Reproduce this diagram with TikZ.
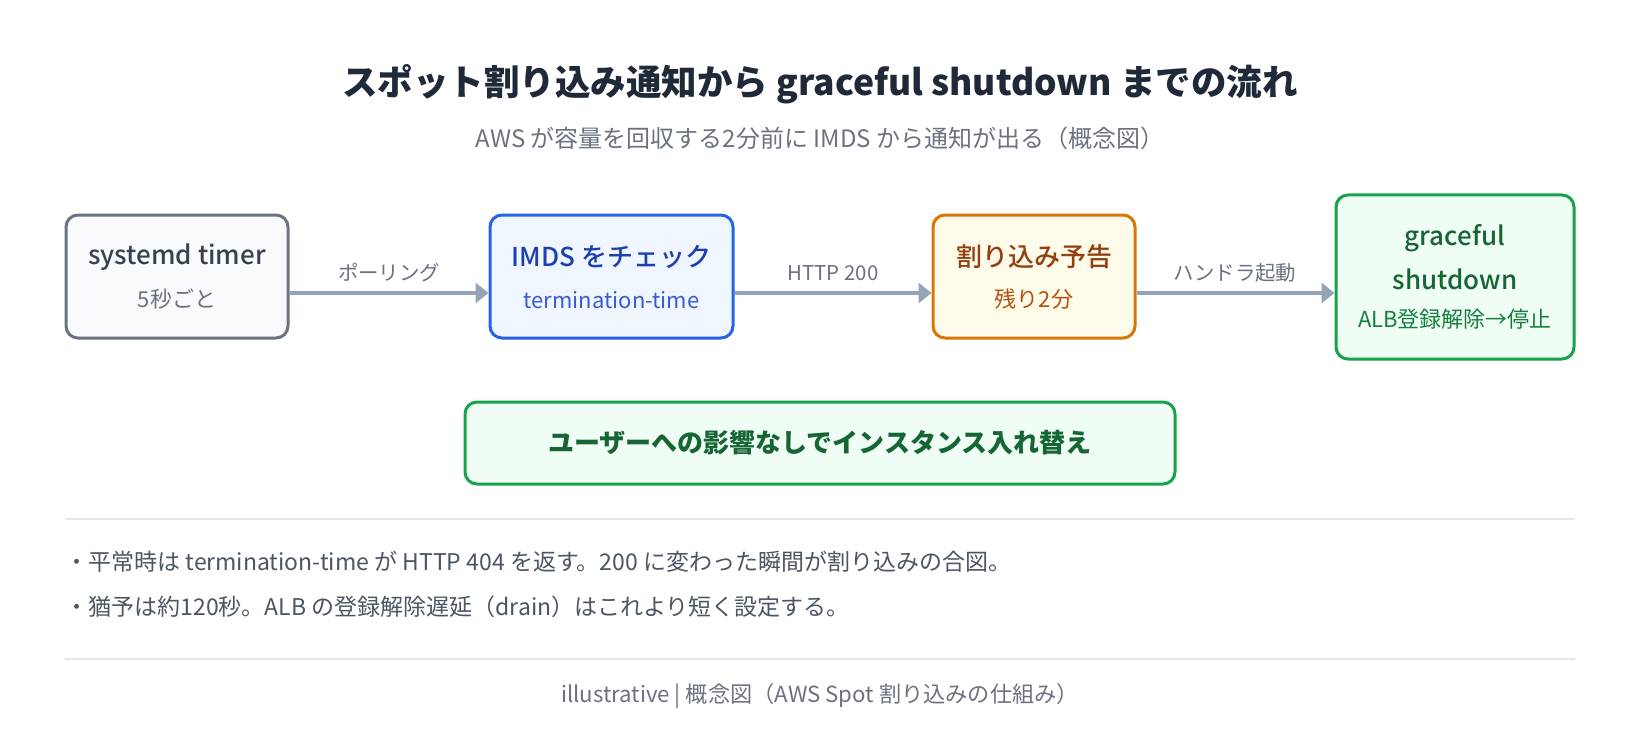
\documentclass[tikz,border=0pt]{standalone}
\usepackage{fontspec}
\setmainfont{Noto Sans CJK JP}
\newfontfamily\medf{Noto Sans CJK JP Medium}
\usetikzlibrary{arrows.meta}
\definecolor{ttl}{HTML}{1F2937}
\definecolor{mut}{HTML}{6B7280}
\definecolor{bul}{HTML}{4B5563}
\definecolor{arr}{HTML}{94A3B8}
\definecolor{sep}{HTML}{E5E7EB}
\definecolor{gfill}{HTML}{F8FAFC}\definecolor{gdraw}{HTML}{6B7280}\definecolor{gtxt}{HTML}{374151}
\definecolor{bfill}{HTML}{EFF6FF}\definecolor{bdraw}{HTML}{2563EB}\definecolor{btxt}{HTML}{1E40AF}\definecolor{bsub}{HTML}{3B5BD0}
\definecolor{ofill}{HTML}{FFFBEB}\definecolor{odraw}{HTML}{D97706}\definecolor{otxt}{HTML}{92400E}\definecolor{osub}{HTML}{B45309}
\definecolor{nfill}{HTML}{F0FDF4}\definecolor{ndraw}{HTML}{16A34A}\definecolor{ntxt}{HTML}{166534}\definecolor{nsub}{HTML}{15803D}
\tikzset{
  box/.style={draw, line width=3pt, rounded corners=12pt, inner sep=0pt},
  flow/.style={draw=arr, line width=4pt, -{Triangle[length=13pt,width=20pt]}},
  lbl/.style={text=mut, font=\fontsize{20.4}{24}\selectfont},
  bt/.style={font=\medf\fontsize{26}{30}\selectfont},
  bs/.style={font=\fontsize{22}{26}\selectfont},
}
\begin{document}
\begin{tikzpicture}[x=1pt,y=-1pt]
\useasboundingbox (0,0) rectangle (1640,754);
\fill[white] (0,0) rectangle (1640,754);
\node[text=ttl, font=\fontsize{35.5}{40}\selectfont\bfseries] (title) at (820,84) {スポット割り込み通知から graceful shutdown までの流れ};
\node[text=mut, font=\fontsize{24}{28}\selectfont] (subtitle) at (820,138) {AWS が容量を回収する2分前に IMDS から通知が出る（概念図）};

\node[box, draw=gdraw, fill=gfill, minimum width=222pt, minimum height=123pt] (b1) at (177,276.5) {};
\node[box, draw=bdraw, fill=bfill, minimum width=243pt, minimum height=123pt] (b2) at (611.5,276.5) {};
\node[box, draw=odraw, fill=ofill, minimum width=202pt, minimum height=123pt] (b3) at (1034,276.5) {};
\node[box, draw=ndraw, fill=nfill, minimum width=238pt, minimum height=164pt] (b4) at (1455,277) {};

\node[bt, text=gtxt] (b1t) at (177,257) {systemd timer};
\node[bs, text=mut] (b1s) at (177,299) {5秒ごと};
\node[bt, text=btxt] (b2t) at (611.5,257) {IMDS をチェック};
\node[bs, text=bsub] (b2s) at (611.5,300) {termination-time};
\node[bt, text=otxt] (b3t) at (1034,257) {割り込み予告};
\node[bs, text=osub] (b3s) at (1034,299) {残り2分};
\node[bt, text=ntxt] (b4t) at (1455,238) {graceful};
\node[bt, text=ntxt] (b4u) at (1455,279) {shutdown};
\node[bs, text=nsub] (b4s) at (1455,319) {ALB登録解除→停止};

\draw[flow] ([yshift=-16.5pt]b1.east) -- ([yshift=-16.5pt]b2.west);
\draw[flow] ([yshift=-16.5pt]b2.east) -- ([yshift=-16.5pt]b3.west);
\draw[flow] ([yshift=-16.5pt]b3.east) -- ([yshift=-16pt]b4.west);
\node[lbl] (l1) at (389,273) {ポーリング};
\node[lbl] (l2) at (833,273) {HTTP 200};
\node[lbl] (l3) at (1235,273) {ハンドラ起動};

\node[box, draw=ndraw, fill=nfill, minimum width=710pt, minimum height=82pt, text=ntxt, font=\fontsize{26}{30}\selectfont\bfseries] (res) at (820,443) {ユーザーへの影響なしでインスタンス入れ替え};

\draw[sep, line width=2pt] (65,519) coordinate (s1a) -- (1575,519) coordinate (s1b);
\node[anchor=west, text=bul, font=\fontsize{23}{27}\selectfont] (n1) at (62,562) {・平常時は termination-time が HTTP 404 を返す。200 に変わった瞬間が割り込みの合図。};
\node[anchor=west, text=bul, font=\fontsize{23}{27}\selectfont] (n2) at (62,607) {・猶予は約120秒。ALB の登録解除遅延（drain）はこれより短く設定する。};
\draw[sep, line width=2pt] (65,659) coordinate (s2a) -- (1575,659) coordinate (s2b);
\node[text=mut, font=\fontsize{22.2}{26}\selectfont] (foot) at (820,696) {illustrative | 概念図（AWS Spot 割り込みの仕組み）};
\end{tikzpicture}
\end{document}
